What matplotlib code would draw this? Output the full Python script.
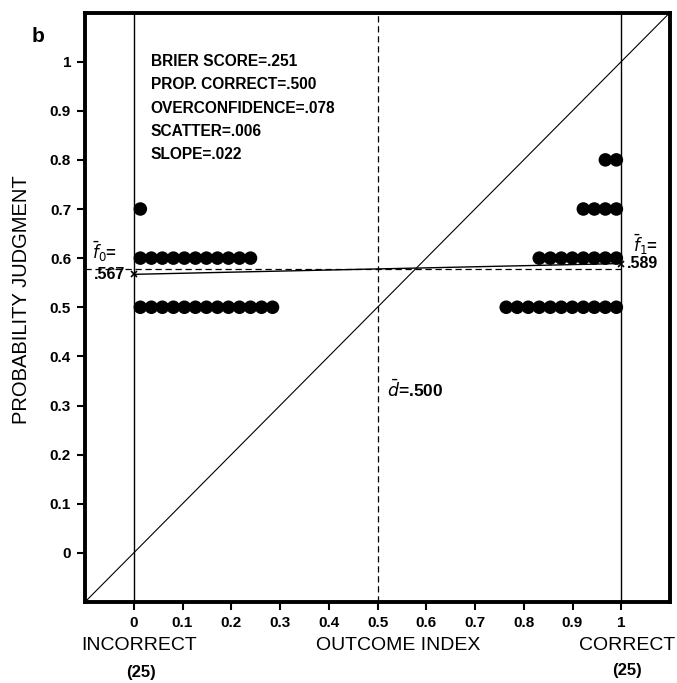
#!/usr/bin/env python3
# -*- coding: utf-8 -*-
"""Covariance graph: probability judgment vs outcome index (panel b)."""

import numpy as np
import matplotlib
matplotlib.use("Agg")
import matplotlib.pyplot as plt

# judgments made when the outcome was incorrect (0) / correct (1)
incorrect_levels = [0.5, 0.6, 0.7]
incorrect_counts = [13, 11, 1]
correct_levels = [0.5, 0.6, 0.7, 0.8]
correct_counts = [11, 8, 4, 2]

f0_mean = 0.567
f1_mean = 0.589
judgment_mean = 0.578
d_mean = 0.500

stats_lines = [
    "BRIER SCORE=.251",
    "PROP. CORRECT=.500",
    "OVERCONFIDENCE=.078",
    "SCATTER=.006",
    "SLOPE=.022",
]
ticks = [0, 0.1, 0.2, 0.3, 0.4, 0.5, 0.6, 0.7, 0.8, 0.9, 1]
tick_labels = ["0", "0.1", "0.2", "0.3", "0.4", "0.5", "0.6", "0.7", "0.8", "0.9", "1"]

plt.rcParams["font.family"] = ["Liberation Sans", "DejaVu Sans"]

fig = plt.figure(figsize=(6.77, 6.83), dpi=100)
ax = fig.add_axes([85 / 677, 1 - 602 / 683, 585 / 677, 589.5 / 683])
ax.set_xlim(-0.1, 1.1)
ax.set_ylim(-0.1, 1.1)

# dots stacked sideways, one per case
step = 0.0226
for lev, n in zip(incorrect_levels, incorrect_counts):
    xs = 0.0135 + step * np.arange(n)
    ax.scatter(xs, [lev] * n, s=95, color="black", edgecolors="none", zorder=3)
for lev, n in zip(correct_levels, correct_counts):
    xs = 0.99 - step * np.arange(n)
    ax.scatter(xs, [lev] * n, s=95, color="black", edgecolors="none", zorder=3)

# reference lines
ax.plot([-0.1, 1.1], [-0.1, 1.1], color="black", lw=0.8)
ax.axvline(0, color="black", lw=1.0)
ax.axvline(1, color="black", lw=1.0)
ax.axvline(d_mean, color="black", lw=0.9, ls=(0, (5, 3)))
ax.plot([-0.1, 1.0], [judgment_mean, judgment_mean], color="black", lw=0.9, ls=(0, (5, 3)))
ax.plot([0, 1], [f0_mean, f1_mean], color="black", lw=1.0)
ax.plot([0, 1], [f0_mean, f1_mean], ls="none", marker="x", ms=5, mew=1.2, color="black")

# text
for i, line in enumerate(stats_lines):
    ax.text(0.035, 1.0 - 0.0475 * i, line, fontsize=11.2, fontweight="bold",
            va="center", ha="left")
ax.text(-0.086, 0.612, r"$\bar{f}_0$=", fontsize=12, fontweight="bold", va="center")
ax.text(-0.082, 0.566, ".567", fontsize=11.5, fontweight="bold", va="center")
ax.text(1.025, 0.628, r"$\bar{f}_1$=", fontsize=12, fontweight="bold", va="center")
ax.text(1.012, 0.589, ".589", fontsize=11.5, fontweight="bold", va="center")
ax.text(0.52, 0.333, r"$\bar{d}$=.500", fontsize=12.5, fontweight="bold", va="center")
fig.text(38 / 677, 1 - 37 / 683, "b", fontsize=15, fontweight="bold", va="center", ha="center")

ax.set_xticks(ticks)
ax.set_xticklabels(tick_labels, fontsize=11, fontweight="bold")
ax.set_yticks(ticks)
ax.set_yticklabels(tick_labels, fontsize=11, fontweight="bold")
ax.tick_params(direction="out", length=6, width=1.5, pad=4)
for sp in ax.spines.values():
    sp.set_linewidth(2.8)

fig.text(22 / 677, 1 - 300 / 683, "PROBABILITY JUDGMENT", fontsize=14.5, rotation=90,
         ha="center", va="center")
fig.text(139 / 677, 1 - 646 / 683, "INCORRECT", fontsize=14, ha="center", va="center")
fig.text(398 / 677, 1 - 646 / 683, "OUTCOME INDEX", fontsize=14, ha="center", va="center")
fig.text(627 / 677, 1 - 646 / 683, "CORRECT", fontsize=14, ha="center", va="center")
fig.text(141 / 677, 1 - 673 / 683, "(25)", fontsize=12, fontweight="bold", ha="center", va="center")
fig.text(627 / 677, 1 - 671 / 683, "(25)", fontsize=12, fontweight="bold", ha="center", va="center")

fig.savefig("out.png", dpi=100)
